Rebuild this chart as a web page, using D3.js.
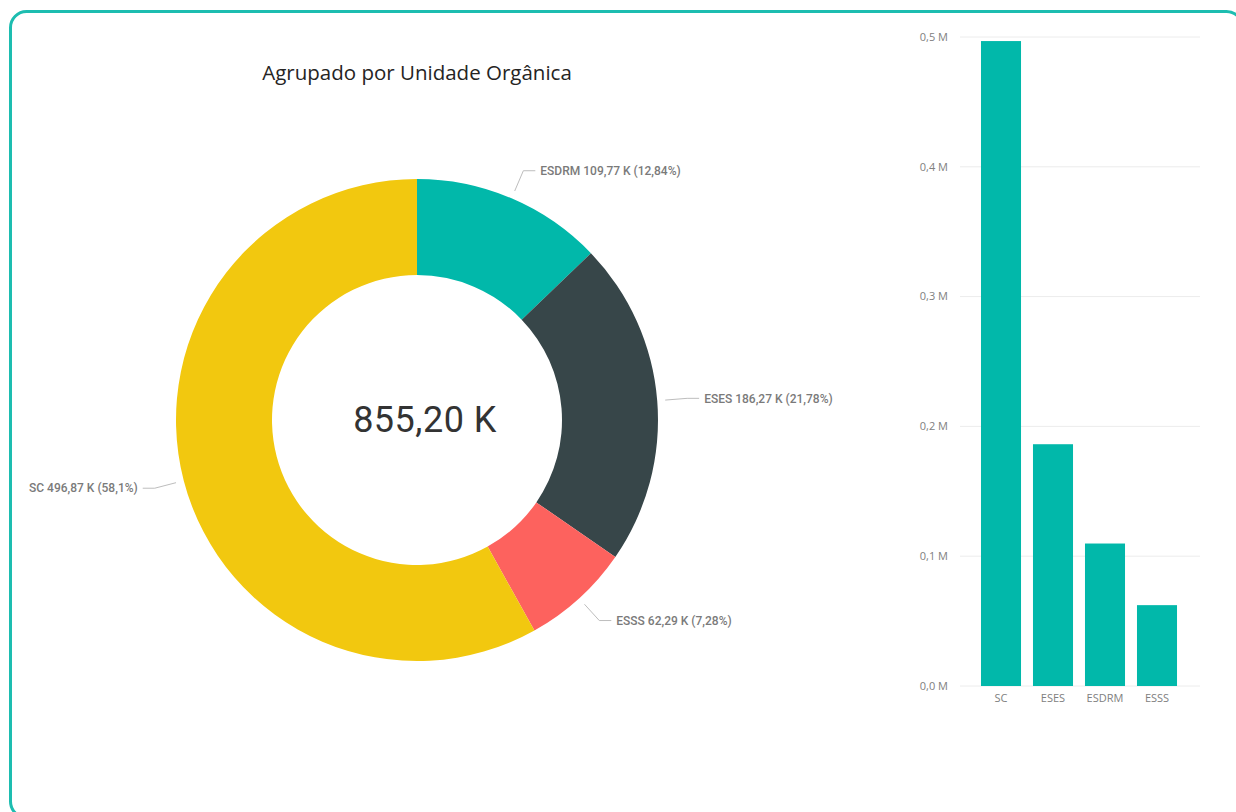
<!DOCTYPE html>
<html><head><meta charset="utf-8">
<script src="https://cdn.jsdelivr.net/npm/d3@7"></script>
<style>
html,body{margin:0;padding:0;background:#fff;overflow:hidden;}
svg{display:block;}
</style></head>
<body>
<svg id="chart" width="1236" height="812"></svg>
<script>
// Data
const categories = ["ESDRM", "ESES", "ESSS", "SC"];
const values = [109.77, 186.27, 62.29, 496.87]; // K
const percentLabels = ["12,84%", "21,78%", "7,28%", "58,1%"];
const valueLabels = ["109,77 K", "186,27 K", "62,29 K", "496,87 K"];
const colors = ["#01B8AA", "#374649", "#FD625E", "#F2C80F"];
const totalLabel = "855,20 K";
const title = "Agrupado por Unidade Orgânica";

const barCategories = ["SC", "ESES", "ESDRM", "ESSS"];
const barValues = [496.87, 186.27, 109.77, 62.29]; // K
const yTicks = [0, 100, 200, 300, 400, 500];
const yTickLabels = ["0,0 M", "0,1 M", "0,2 M", "0,3 M", "0,4 M", "0,5 M"];

const svg = d3.select("#chart");

// Border
svg.append("rect")
  .attr("x", 10.5).attr("y", 11.5)
  .attr("width", 1232).attr("height", 806)
  .attr("rx", 16).attr("ry", 16)
  .attr("fill", "none")
  .attr("stroke", "#1DBDB0")
  .attr("stroke-width", 3);

// Title
svg.append("text")
  .attr("x", 417).attr("y", 80)
  .attr("text-anchor", "middle")
  .attr("font-family", "'Open Sans', 'Noto Sans', sans-serif")
  .attr("font-size", 20.5)
  .attr("fill", "#252423")
  .text(title);

// Donut
const cx = 417, cy = 420, R = 241, r0 = 145;
const g = svg.append("g").attr("transform", `translate(${cx},${cy})`);
const pie = d3.pie().sort(null).value(d => d)(values);
const arc = d3.arc().innerRadius(r0).outerRadius(R);
g.selectAll("path.slice").data(pie).join("path")
  .attr("class", "slice")
  .attr("d", arc)
  .attr("fill", (d, i) => colors[i]);

// Leader lines and labels
pie.forEach((d, i) => {
  const a = (d.startAngle + d.endAngle) / 2;
  const p = rr => [rr * Math.sin(a), -rr * Math.cos(a)];
  const s = p(R + 8), e = p(R + 30);
  const right = Math.sin(a) >= 0;
  const hx = e[0] + (right ? 12 : -12);
  g.append("polyline")
    .attr("points", [s, e, [hx, e[1]]].map(q => q.join(",")).join(" "))
    .attr("fill", "none").attr("stroke", "#bdbdbd").attr("stroke-width", 1);
  g.append("text")
    .attr("x", hx + (right ? 5 : -5)).attr("y", e[1])
    .attr("dy", "0.35em")
    .attr("text-anchor", right ? "start" : "end")
    .attr("font-family", "Roboto, sans-serif")
    .attr("font-size", 12)
    .attr("font-weight", 500)
    .attr("fill", "#7a7a7a")
    .text(`${categories[i]} ${valueLabels[i]} (${percentLabels[i]})`);
});

// Center total
g.append("text")
  .attr("x", 8).attr("y", 12)
  .attr("text-anchor", "middle")
  .attr("font-family", "Roboto, sans-serif")
  .attr("font-size", 36)
  .attr("letter-spacing", 0.5)
  .attr("fill", "#333")
  .text(totalLabel);

// Bar chart
const y = d3.scaleLinear().domain([0, 500]).range([686, 37]);
const x = d3.scaleBand().domain(barCategories).range([975, 1183])
  .paddingInner(0.23).paddingOuter(0.115);

const grid = svg.append("g");
grid.selectAll("line").data(yTicks).join("line")
  .attr("x1", 960).attr("x2", 1200)
  .attr("y1", d => y(d)).attr("y2", d => y(d))
  .attr("stroke", "#ececec").attr("stroke-width", 1);

svg.append("g").selectAll("text").data(yTicks).join("text")
  .attr("x", 948).attr("y", d => y(d))
  .attr("dy", "0.35em")
  .attr("text-anchor", "end")
  .attr("font-family", "'Open Sans', sans-serif")
  .attr("font-size", 11)
  .attr("fill", "#808080")
  .text((d, i) => yTickLabels[i]);

svg.append("g").selectAll("rect").data(barValues).join("rect")
  .attr("x", (d, i) => x(barCategories[i]))
  .attr("width", x.bandwidth())
  .attr("y", d => y(d))
  .attr("height", d => y(0) - y(d))
  .attr("fill", "#01B8AA");

svg.append("g").selectAll("text").data(barCategories).join("text")
  .attr("x", d => x(d) + x.bandwidth() / 2)
  .attr("y", 702)
  .attr("text-anchor", "middle")
  .attr("font-family", "'Open Sans', sans-serif")
  .attr("font-size", 11)
  .attr("fill", "#808080")
  .text(d => d);
</script>
</body></html>
